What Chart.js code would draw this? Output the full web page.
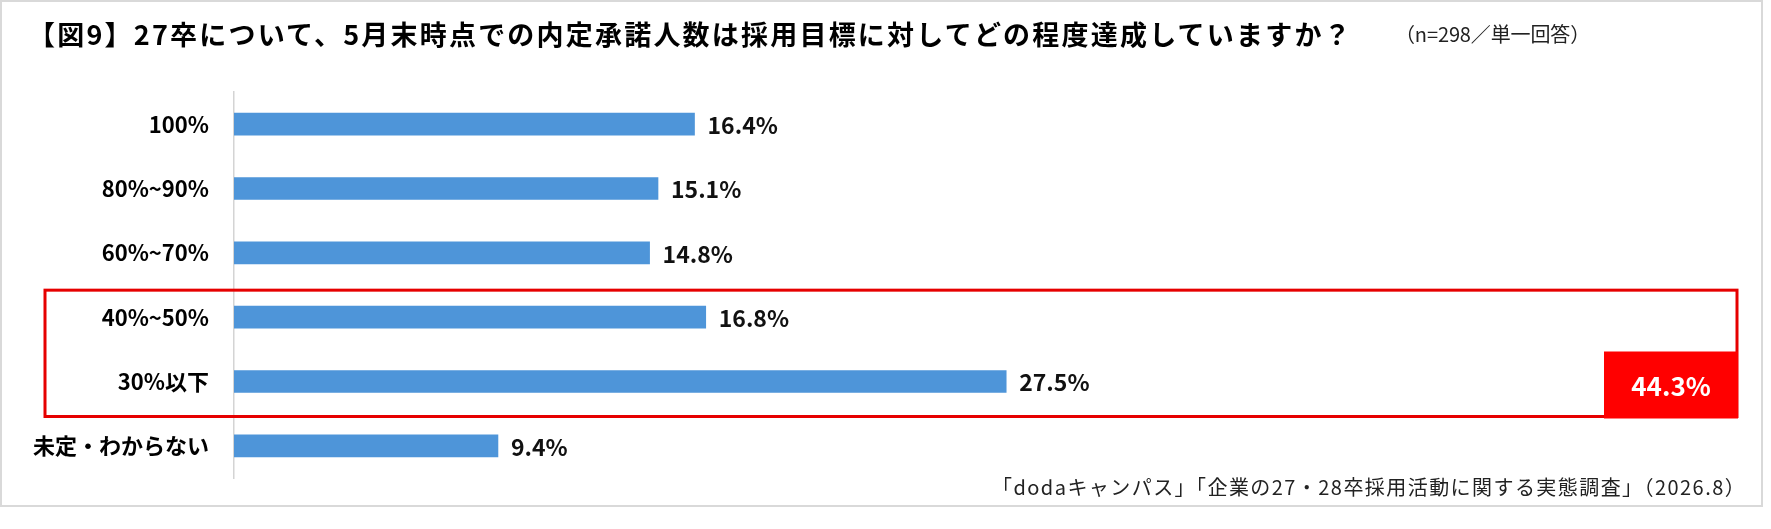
<!DOCTYPE html>
<html lang="ja">
<head>
<meta charset="utf-8">
<script src="https://cdn.jsdelivr.net/npm/chart.js@4.4.1/dist/chart.umd.min.js"></script>
<style>
  html, body { margin: 0; padding: 0; background: #fff; }
  body { width: 1771px; height: 529px; position: relative; overflow: hidden;
         font-family: 'Noto Sans CJK JP', 'Noto Sans', sans-serif; color: #000; }
  #frame { position: absolute; left: 0; top: 0; width: 1763px; height: 507px;
           border: 2px solid #d9d9d9; box-sizing: border-box; }
  #c { position: absolute; left: 0; top: 0; }
  .txt { position: absolute; white-space: nowrap; line-height: 1; }
  #title { left: 28px; top: 20px; font-size: 27px; font-weight: bold; }
  #note { left: 1395px; top: 24px; font-size: 20px; color: #222; }
  #source { left: 992px; top: 477px; font-size: 20px; color: #222; }
</style>
</head>
<body>
<div id="frame"></div>
<canvas id="c" width="1771" height="529"></canvas>
<div class="txt" id="title" data-w="1325">【図9】27卒について、5月末時点での内定承諾人数は採用目標に対してどの程度達成していますか？</div>
<div class="txt" id="note" data-w="195">（n=298／単一回答）</div>
<div class="txt" id="source" data-w="754">「dodaキャンパス」「企業の27・28卒採用活動に関する実態調査」（2026.8）</div>
<script>
    const categories = ["100%", "80%~90%", "60%~70%", "40%~50%", "30%以下", "未定・わからない"];
    const shares = [16.4, 15.1, 14.8, 16.8, 27.5, 9.4];
    const highlighted = [3, 4];   // 40%~50% と 30%以下 をまとめて囲む

    const labelFont = "'Noto Sans CJK JP', 'Noto Sans', sans-serif";

    // stretch the html texts to the widths of the original
    document.querySelectorAll('.txt').forEach(function(el) {
        const target = +el.dataset.w;
        const n = el.textContent.length;
        const gap = (target - el.getBoundingClientRect().width) / n;
        el.style.letterSpacing = gap.toFixed(2) + 'px';
    });

    const valueLabels = {
        id: 'valueLabels',
        afterDatasetsDraw(chart) {
            const ctx = chart.ctx;
            const meta = chart.getDatasetMeta(0);
            ctx.save();
            ctx.font = "bold 23px " + labelFont;
            ctx.fillStyle = '#111';
            ctx.textAlign = 'left';
            ctx.textBaseline = 'middle';
            meta.data.forEach(function(bar, i) {
                ctx.fillText(shares[i].toFixed(1) + '%', bar.x + 13, bar.y + 1);
            });
            ctx.restore();
        }
    };

    const highlightBox = {
        id: 'highlightBox',
        afterDraw(chart) {
            const ctx = chart.ctx;
            const y = chart.scales.y;
            const top = y.getPixelForValue(highlighted[0]) - 27;
            const bottom = y.getPixelForValue(highlighted[1]) + 35;
            const left = 45, right = 1737;
            ctx.save();
            ctx.strokeStyle = '#e60000';
            ctx.lineWidth = 3;
            ctx.strokeRect(left, top, right - left, bottom - top);

            const total = highlighted.reduce((s, i) => s + shares[i], 0);
            const bx = 1604, by = y.getPixelForValue(highlighted[1]) - 30;
            const bw = right + 1 - bx, bh = bottom + 2 - by;
            ctx.fillStyle = '#ff0000';
            ctx.fillRect(bx, by, bw, bh);
            ctx.fillStyle = '#fff';
            ctx.font = "bold 26px " + labelFont;
            ctx.textAlign = 'center';
            ctx.textBaseline = 'middle';
            ctx.fillText(total.toFixed(1) + '%', bx + bw / 2, by + bh / 2 + 1);
            ctx.restore();
        }
    };

    new Chart("c", {
        type: "bar",
        data: {
            labels: categories,
            datasets: [{
                data: shares,
                backgroundColor: "#4e95d9",
                borderWidth: 0,
                barThickness: 22
            }]
        },
        options: {
            indexAxis: 'y',
            responsive: false,
            animation: false,
            devicePixelRatio: 1,
            layout: { padding: { left: 0, top: 92, right: 133, bottom: 51 } },
            plugins: {
                legend: { display: false },
                tooltip: { enabled: false }
            },
            scales: {
                x: {
                    display: false,
                    min: 0,
                    max: 50
                },
                y: {
                    afterFit: function(scale) { scale.width = 234; },
                    grid: { display: false, drawTicks: false },
                    border: { display: true, color: '#d4d4d4', width: 1.5 },
                    ticks: {
                        padding: 25,
                        color: '#000',
                        font: { family: labelFont, size: 22, weight: 'bold' }
                    }
                }
            }
        },
        plugins: [valueLabels, highlightBox]
    });
</script>
</body>
</html>
